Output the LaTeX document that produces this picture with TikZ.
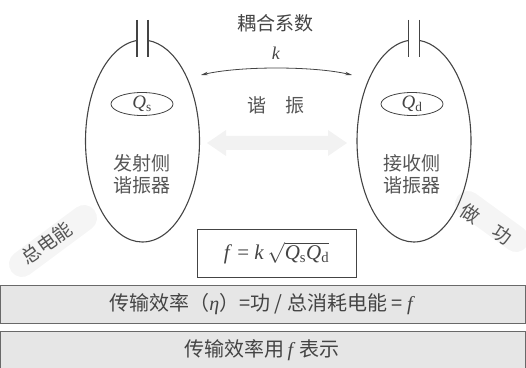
\documentclass[tikz,border=0pt]{standalone}
\usepackage{fontspec}
\setmainfont{Liberation Serif}
\newfontfamily\cjk{Noto Sans CJK SC}
\usetikzlibrary{arrows.meta}
\definecolor{ink}{HTML}{444444}
\definecolor{txt}{HTML}{555555}
\definecolor{barfill}{HTML}{E6E6E6}
\tikzset{
  reso/.style={draw=ink, line width=1.1pt},
  capline/.style={draw=ink, line width=1.1pt},
  qell/.style={draw=ink, line width=0.8pt, ellipse, minimum width=62pt, minimum height=23pt, inner sep=0pt},
  cjklabel/.style={text=txt, font=\cjk\fontsize{19}{22}\selectfont, align=center, inner sep=0pt},
  bartext/.style={text=ink, font=\cjk\fontsize{20}{24}\selectfont, inner sep=0pt},
  bar/.style={fill=barfill, draw=ink!80, line width=0.9pt},
  glow/.style={draw=black!4, line width=26pt, line cap=round},
}
\usetikzlibrary{shapes.geometric}
\begin{document}
\begin{tikzpicture}[x=1pt,y=1pt]
\useasboundingbox (0,0) rectangle (526,367);
% faint energy bands
\draw[glow] (22,103) -- (84,149);
\draw[glow] (468,163) -- (516,128);
\fill[black!5] (207,224) -- (226,237) -- (226,231) -- (328,231) -- (328,237) -- (347,224) -- (328,211) -- (328,217) -- (226,217) -- (226,211) -- cycle;
% resonators
\draw[reso] (142.5,226) ++(95.5:57 and 101) arc[start angle=95.5, end angle=444.5, x radius=57, y radius=101];
\draw[capline] (137,347) -- (137,310);
\draw[capline] (148,347) -- (148,310);
\draw[reso] (414,226) ++(95.5:57 and 101) arc[start angle=95.5, end angle=444.5, x radius=57, y radius=101];
\draw[capline] (408.5,347) -- (408.5,310);
\draw[capline] (419.5,347) -- (419.5,310);
\node[qell] (qs) at (142,263) {};
\node[text=ink, font=\fontsize{19}{20}\selectfont] at (qs) {\textit{Q}\textsubscript{s}};
\node[qell] (qd) at (412,263) {};
\node[text=ink, font=\fontsize{19}{20}\selectfont] at (qd) {\textit{Q}\textsubscript{d}};
\node[cjklabel] (tx) at (142,193) {发射侧\\谐振器};
\node[cjklabel] (rx) at (412,193) {接收侧\\谐振器};
% coupling
\node[cjklabel, text=ink] (title) at (275,344) {耦合系数};
\node[text=ink, font=\fontsize{18}{20}\selectfont] (k) at (276,314) {\textit{k}};
\coordinate (kL) at (201,292);
\coordinate (kR) at (352,292);
\draw[ink, line width=0.8pt, {Stealth[length=7pt,width=3.5pt]}-{Stealth[length=7pt,width=3.5pt]}] (kL) .. controls (240,301) and (313,301) .. (kR);
\node[cjklabel] (res) at (276,262) {谐　振};
% side labels
\node[cjklabel, rotate=35] (total) at (47,124) {总电能};
\node[cjklabel, rotate=-33] (work) at (486,143) {做　功};
% formula
\node[draw=ink, line width=0.9pt, minimum width=159pt, minimum height=48pt, text=ink, font=\fontsize{21}{24}\selectfont] (f) at (276.5,114) {\textit{f} = \textit{k}\,$\sqrt{\mbox{\textit{Q}\textsubscript{s}\textit{Q}\textsubscript{d}}}$};
% bars
\draw[bar] (0.5,44) rectangle (525.5,82);
\node[bartext] (b1) at (261,63) {传输效率（{\rmfamily\itshape η}）=功 / 总消耗电能 = {\rmfamily\itshape f}};
\draw[bar] (0.5,-2) rectangle (525.5,36);
\node[bartext] (b2) at (262,17) {传输效率用\,{\rmfamily\itshape f}\,\,表示};
\end{tikzpicture}
\end{document}
